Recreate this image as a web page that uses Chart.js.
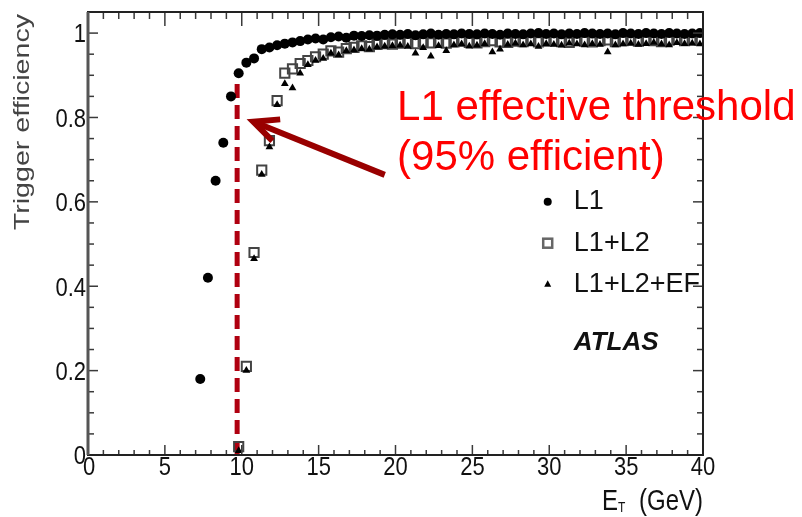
<!DOCTYPE html>
<html lang="en">
<head>
<meta charset="UTF-8" />
<title>Trigger efficiency vs E_T</title>
<script src="https://cdn.jsdelivr.net/npm/chart.js"></script>
<style>
  html, body { margin: 0; padding: 0; background: #fff; }
  #effChart { display: block; }
</style>
</head>
<body>
<canvas id="effChart" width="802" height="517"></canvas>

<script>
  // bin centres (GeV)
  const etBins = [
    7.3, 7.8, 8.3, 8.8, 9.3, 9.8, 10.3, 10.8, 11.3, 11.8, 12.3, 12.8, 13.3,
    13.8, 14.3, 14.8, 15.3, 15.8, 16.3, 16.8, 17.3, 17.8, 18.3, 18.8, 19.3, 19.8,
    20.3, 20.8, 21.3, 21.8, 22.3, 22.8, 23.3, 23.8, 24.3, 24.8,
    25.3, 25.8, 26.3, 26.8, 27.3, 27.8, 28.3, 28.8, 29.3, 29.8,
    30.3, 30.8, 31.3, 31.8, 32.3, 32.8, 33.3, 33.8, 34.3, 34.8,
    35.3, 35.8, 36.3, 36.8, 37.3, 37.8, 38.3, 38.8, 39.3, 39.8
  ];

  const effL1 = [
    0.18, 0.42, 0.65, 0.74, 0.85, 0.905, 0.93, 0.94, 0.962, 0.966, 0.971, 0.975, 0.978,
    0.981, 0.985, 0.987, 0.985, 0.99, 0.992, 0.989, 0.994, 0.993, 0.995, 0.994, 0.996, 0.997,
    0.996, 0.998, 0.995, 0.997, 0.999, 0.996, 0.998, 0.997, 0.999, 0.998,
    0.997, 0.999, 0.998, 0.996, 0.999, 0.998, 0.997, 0.999, 1.0, 0.998,
    0.999, 0.997, 0.999, 0.998, 1.0, 0.999, 0.998, 0.999, 0.997, 1.0,
    0.999, 0.998, 1.0, 0.999, 0.998, 1.0, 0.999, 0.998, 0.999, 1.0
  ];

  const effL1L2 = [
    null, null, null, null, null, 0.02, 0.21, 0.48, 0.675, 0.745, 0.84, 0.905, 0.915,
    0.928, 0.935, 0.944, 0.95, 0.958, 0.955, 0.963, 0.966, 0.97, 0.968, 0.973, 0.975, 0.974,
    0.976, 0.978, 0.975, 0.979, 0.977, 0.98, 0.976, 0.979, 0.981, 0.978,
    0.977, 0.98, 0.982, 0.979, 0.978, 0.981, 0.98, 0.983, 0.979, 0.981,
    0.982, 0.98, 0.978, 0.983, 0.981, 0.979, 0.982, 0.984, 0.98, 0.982,
    0.983, 0.981, 0.984, 0.982, 0.98, 0.983, 0.985, 0.982, 0.984, 0.983
  ];

  const effL1L2EF = [
    null, null, null, null, null, 0.01, 0.20, 0.465, 0.665, 0.73, 0.83, 0.88, 0.87,
    0.905, 0.925, 0.935, 0.94, 0.952, 0.948, 0.958, 0.96, 0.963, 0.962, 0.967, 0.969, 0.97,
    0.971, 0.968, 0.952, 0.965, 0.945, 0.97, 0.958, 0.972, 0.974, 0.969,
    0.971, 0.975, 0.955, 0.962, 0.973, 0.976, 0.972, 0.974, 0.968, 0.975,
    0.973, 0.971, 0.976, 0.974, 0.972, 0.975, 0.973, 0.955, 0.972, 0.974,
    0.976, 0.973, 0.975, 0.978, 0.974, 0.972, 0.977, 0.975, 0.976, 0.974
  ];

  const seriesNames = ['L1', 'L1+L2', 'L1+L2+EF'];
  const xTickLabels = [0, 5, 10, 15, 20, 25, 30, 35, 40];
  const yTickLabels = [0, 0.2, 0.4, 0.6, 0.8, 1];

  // 95% point of the L1 turn-on
  const thresholdEt = 9.7;
  const thresholdTop = 0.89;
  const noteLines = ['L1 effective threshold', '(95% efficient)'];

  const FONT = '"Liberation Sans", Arial, Helvetica, sans-serif';

  function toPoints(vals) {
    return etBins.map((x, i) => ({ x: x, y: vals[i] })).filter(p => p.y !== null);
  }

  function line(ctx, x1, y1, x2, y2) {
    ctx.beginPath();
    ctx.moveTo(x1, y1);
    ctx.lineTo(x2, y2);
    ctx.stroke();
  }

  // the plot's text is a little taller than wide, so scale it vertically
  function tallText(ctx, str, x, y, size, sy, align, font) {
    ctx.save();
    ctx.font = (font || '') + ' ' + size + 'px ' + FONT;
    ctx.textAlign = align;
    ctx.textBaseline = 'middle';
    ctx.translate(x, y);
    ctx.scale(1, sy);
    ctx.fillText(str, 0, 0);
    ctx.restore();
  }

  const framePlugin = {
    id: 'framePlugin',
    afterDraw(chart) {
      const ctx = chart.ctx;
      const a = chart.chartArea;
      const xs = chart.scales.x;
      const ys = chart.scales.y;
      ctx.save();

      // inward ticks on all four sides
      ctx.strokeStyle = '#3a3a3a';
      ctx.lineWidth = 1.5;
      for (let v = 0; v <= 40; v++) {
        const px = xs.getPixelForValue(v);
        const major = v % 5 === 0;
        line(ctx, px, a.bottom, px, a.bottom - (major ? 10 : 5));
        line(ctx, px, a.top, px, a.top + (major ? 14 : 7));
      }
      for (let k = 0; k <= 21; k++) {
        const py = ys.getPixelForValue(k * 0.05);
        const major = k % 4 === 0;
        line(ctx, a.left, py, a.left + (major ? 10 : 6), py);
        line(ctx, a.right, py, a.right - (major ? 10 : 6), py);
      }

      ctx.strokeStyle = '#222';
      ctx.lineWidth = 2;
      ctx.strokeRect(a.left, a.top, a.right - a.left, a.bottom - a.top);
      ctx.strokeStyle = '#555';
      ctx.lineWidth = 3;
      line(ctx, a.left, a.top, a.left, a.bottom);

      // tick labels
      ctx.fillStyle = '#111';
      xTickLabels.forEach(v => {
        tallText(ctx, String(v), xs.getPixelForValue(v) + (v === 0 ? 1 : 0), a.bottom + 13, 22, 1.2, 'center');
      });
      yTickLabels.forEach(v => {
        tallText(ctx, String(v), a.left - 2, ys.getPixelForValue(v) + 2, 22, 1.2, 'right');
      });

      // axis titles
      ctx.save();
      ctx.fillStyle = '#444';
      ctx.font = '22px ' + FONT;
      ctx.textAlign = 'right';
      ctx.textBaseline = 'middle';
      ctx.translate(23, a.top + 2);
      ctx.rotate(-Math.PI / 2);
      ctx.scale(1.3, 1);
      ctx.fillText('Trigger efficiency', 0, 0);
      ctx.restore();

      ctx.fillStyle = '#111';
      tallText(ctx, 'E', a.left + 514, a.bottom + 47, 24, 1.2, 'left');
      tallText(ctx, 'T', a.left + 530, a.bottom + 53, 12, 1.2, 'left');
      tallText(ctx, '(GeV)', a.right, a.bottom + 47, 24, 1.2, 'right');

      // legend
      const lx = xs.getPixelForValue(29.9);
      const tx = xs.getPixelForValue(31.6);
      const rows = [0.6, 0.502, 0.405].map(v => ys.getPixelForValue(v));
      ctx.fillStyle = '#000';
      ctx.beginPath();
      ctx.arc(lx, rows[0], 4, 0, Math.PI * 2);
      ctx.fill();
      ctx.strokeStyle = '#666';
      ctx.lineWidth = 2.5;
      ctx.strokeRect(lx - 4.5, rows[1] - 4.5, 9, 9);
      ctx.beginPath();
      ctx.moveTo(lx, rows[2] - 4);
      ctx.lineTo(lx + 3.5, rows[2] + 2.5);
      ctx.lineTo(lx - 3.5, rows[2] + 2.5);
      ctx.closePath();
      ctx.fill();
      ctx.fillStyle = '#111';
      seriesNames.forEach((name, i) => {
        tallText(ctx, name, tx, rows[i], 27, 1, 'left');
      });
      tallText(ctx, 'ATLAS', tx, ys.getPixelForValue(0.265), 26, 1, 'left', 'italic bold');

      // arrow pointing at the threshold
      const ax = xs.getPixelForValue(10.75), ay = ys.getPixelForValue(0.79);
      const fx = xs.getPixelForValue(19.3), fy = ys.getPixelForValue(0.664);
      const ang = Math.atan2(fy - ay, fx - ax);
      ctx.strokeStyle = '#990000';
      ctx.lineWidth = 6;
      line(ctx, fx, fy, ax + 3 * Math.cos(ang), ay + 3 * Math.sin(ang));
      ctx.lineJoin = 'miter';
      ctx.beginPath();
      ctx.moveTo(ax + 27 * Math.cos(ang - 0.47), ay + 27 * Math.sin(ang - 0.47));
      ctx.lineTo(ax, ay);
      ctx.lineTo(ax + 27 * Math.cos(ang + 0.4), ay + 27 * Math.sin(ang + 0.4));
      ctx.stroke();

      // annotation text
      ctx.fillStyle = '#ff0000';
      ctx.font = '42px ' + FONT;
      ctx.textAlign = 'left';
      ctx.textBaseline = 'alphabetic';
      const nx = xs.getPixelForValue(20.1);
      ctx.fillText(noteLines[0], nx, ys.getPixelForValue(0.794));
      ctx.fillText(noteLines[1], nx, ys.getPixelForValue(0.675));

      ctx.restore();
    }
  };

  const ctx = document.getElementById('effChart').getContext('2d');
  const effChart = new Chart(ctx, {
    type: 'scatter',
    data: {
      datasets: [
        {
          label: seriesNames[0],
          data: toPoints(effL1),
          pointStyle: 'circle',
          pointRadius: 5,
          backgroundColor: '#000',
          borderColor: '#000',
          borderWidth: 0
        },
        {
          label: seriesNames[2],
          data: toPoints(effL1L2EF),
          pointStyle: 'triangle',
          pointRadius: 4.5,
          backgroundColor: '#000',
          borderColor: '#000',
          borderWidth: 0
        },
        {
          label: seriesNames[1],
          data: toPoints(effL1L2),
          pointStyle: 'rect',
          pointRadius: 6.5,
          backgroundColor: 'rgba(255,255,255,0)',
          borderColor: '#444',
          borderWidth: 2
        },
        {
          label: 'threshold',
          type: 'line',
          data: [{ x: thresholdEt, y: 0 }, { x: thresholdEt, y: thresholdTop }],
          borderColor: '#b00010',
          borderWidth: 5,
          borderDash: [14, 7],
          pointRadius: 0,
          fill: false
        }
      ]
    },
    options: {
      responsive: false,
      animation: false,
      events: [],
      devicePixelRatio: 1,
      layout: { padding: { left: 0, right: 99, top: 12, bottom: 0 } },
      scales: {
        x: {
          type: 'linear',
          min: 0,
          max: 40,
          ticks: { display: false, stepSize: 5 },
          grid: { display: false },
          border: { display: false },
          afterFit: s => { s.height = 62; }
        },
        y: {
          min: 0,
          max: 1.05,
          ticks: { display: false, stepSize: 0.2, includeBounds: false },
          grid: { display: false },
          border: { display: false },
          afterFit: s => { s.width = 88; }
        }
      },
      plugins: {
        legend: { display: false },
        tooltip: { enabled: false }
      }
    },
    plugins: [framePlugin]
  });
</script>
</body>
</html>
